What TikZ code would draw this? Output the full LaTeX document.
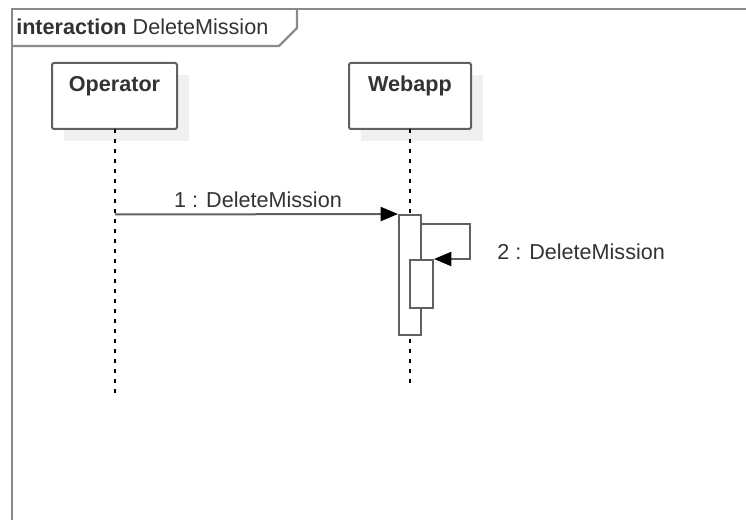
\documentclass[tikz,border=0pt]{standalone}
\usepackage{fontspec}
\setmainfont{Liberation Sans}
\usetikzlibrary{arrows.meta}
\definecolor{framegray}{HTML}{8A8A8A}
\definecolor{linegray}{HTML}{606060}
\definecolor{txt}{HTML}{333333}
\definecolor{shadowgray}{HTML}{F0F0F0}
\tikzset{
  frameline/.style={draw=framegray, line width=1.6pt},
  lifebox/.style={draw=linegray, line width=1.5pt, fill=white, rounded corners=1.5pt},
  shadowbox/.style={fill=shadowgray, draw=none},
  lifeline/.style={draw=black, line width=1.1pt, dash pattern=on 3pt off 4.5pt},
  actbar/.style={draw=linegray, line width=1.5pt, fill=white},
  msg/.style={draw=linegray, line width=1.5pt, -{Triangle[length=13pt,width=10.5pt,fill=black,color=black]}},
  lbl/.style={font=\fontsize{16.2}{19}\selectfont, text=txt, inner sep=0pt},
  namelbl/.style={font=\fontsize{16.2}{19}\selectfont\bfseries, text=txt, inner sep=0pt}
}
\begin{document}
\begin{tikzpicture}[x=0.75pt,y=-0.75pt]
\useasboundingbox (0,0) rectangle (746,520);
\fill[white] (0,0) rectangle (746,520);
% frame
\draw[frameline] (12,530) -- (12,9) -- (760,9);
\draw[frameline] (12,46) -- (279,46) -- (297,28) -- (297,9);
\node[anchor=base west, lbl] (title) at (16,35) {\textbf{interaction} DeleteMission};
% shadows
\fill[shadowbox] (64,75) rectangle (189,141);
\fill[shadowbox] (361,75) rectangle (483,141);
% lifeline heads
\draw[lifebox] (52,63) rectangle (177,129);
\draw[lifebox] (349,63) rectangle (471,129);
\node[anchor=base, namelbl] (op) at (114.5,92) {Operator};
\node[anchor=base, namelbl] (web) at (410,92) {Webapp};
\coordinate (opTop) at (115,129);
\coordinate (opEnd) at (115,399);
\coordinate (webTop) at (410,129);
\coordinate (webEnd) at (410,386);
\draw[lifeline] (opTop) -- (opEnd);
\draw[lifeline] (webTop) -- (webEnd);
% activations
\node[actbar, minimum width=22*0.75pt, minimum height=120*0.75pt, inner sep=0pt, anchor=north west] (act1) at (398,214) {};
\node[actbar, minimum width=23*0.75pt, minimum height=48*0.75pt, inner sep=0pt, anchor=north west] (act2) at (409,259) {};
% messages
\coordinate (m1s) at (115,214.5);
\draw[msg] (m1s) -- (act1.north west);
\coordinate (s1) at (420,224);
\coordinate (s2) at (470,224);
\coordinate (s3) at (470,259);
\draw[msg] (s1) -- (s2) -- (s3) -- (act2.north east);
\node[anchor=base, lbl] (l1) at (258,208) {1 : DeleteMission};
\node[anchor=base west, lbl] (l2) at (497,260) {2 : DeleteMission};
\end{tikzpicture}
\end{document}
